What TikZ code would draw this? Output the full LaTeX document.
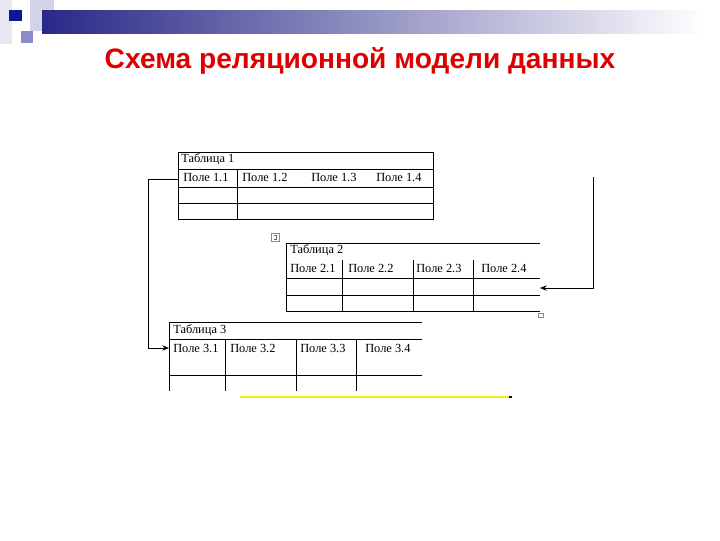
\documentclass[tikz,border=0pt]{standalone}
\usepackage{fontspec}
\setmainfont{Liberation Serif}
\newfontfamily\titlefont{Liberation Sans}
\usetikzlibrary{arrows.meta}
\definecolor{navy}{RGB}{40,40,135}
\definecolor{sqdark}{RGB}{20,20,150}
\definecolor{sqmid}{RGB}{140,140,200}
\definecolor{sqlight}{RGB}{210,210,232}
\definecolor{sqpale}{RGB}{232,232,244}
\definecolor{titlered}{RGB}{222,0,0}
\definecolor{hlyellow}{RGB}{245,240,20}
\tikzset{
  tbl/.style={line width=0.75pt, draw=black},
  cell/.style={anchor=west, inner sep=0pt, font=\fontsize{9.3}{11}\selectfont},
  conn/.style={line width=0.75pt, -{Stealth[length=5pt,width=4pt]}},
  handle/.style={draw=black!45, line width=0.4pt, fill=white},
}
\begin{document}
\begin{tikzpicture}[x=0.75pt,y=-0.75pt]
\useasboundingbox (0,0) rectangle (720,540);
% header decoration
\fill[sqpale] (0,0) rectangle (12,44);
\fill[sqlight] (30,0) rectangle (54,31);
\shade[left color=navy, right color=white] (42,10) rectangle (705,33);
\fill[sqmid] (21,31) rectangle (33,43);
\fill[sqdark] (9,10) rectangle (22,21);
% title
\node[font=\titlefont\bfseries\fontsize{21.1}{24}\selectfont, text=titlered] (title) at (360,61) {Схема реляционной модели данных};

% Table 1
\draw[tbl] (178,152) rectangle (433,219);
\draw[tbl] (178,169) -- (433,169);
\draw[tbl] (178,187) -- (433,187);
\draw[tbl] (178,203) -- (433,203);
\draw[tbl] (237,169) -- (237,219);
\node[cell] (t1) at (181,159.5) {Таблица 1};
\node[cell] (f11) at (183,177.5) {Поле 1.1};
\node[cell] (f12) at (242,177.5) {Поле 1.2};
\node[cell] (f13) at (311,177.5) {Поле 1.3};
\node[cell] (f14) at (376,177.5) {Поле 1.4};

% Table 2
\draw[tbl] (540,243) -- (286,243) -- (286,311) -- (540,311);
\draw[tbl] (286,278) -- (540,278);
\draw[tbl] (286,295) -- (540,295);
\draw[tbl] (342,260) -- (342,311);
\draw[tbl] (413,260) -- (413,311);
\draw[tbl] (473,260) -- (473,311);
\node[cell] (t2) at (290,250.5) {Таблица 2};
\node[cell] (f21) at (290,268.5) {Поле 2.1};
\node[cell] (f22) at (348,268.5) {Поле 2.2};
\node[cell] (f23) at (416,268.5) {Поле 2.3};
\node[cell] (f24) at (481,268.5) {Поле 2.4};
\draw[handle] (271,233) rectangle (279,241);
\draw[black!60, line width=0.4pt] (273.5,235.5) -- (276.5,235.5) -- (276.5,239) -- (273.5,239);
\draw[handle] (538,313) rectangle (543,317);

% Table 3
\draw[tbl] (422,322) -- (169,322) -- (169,391);
\draw[tbl] (169,339) -- (422,339);
\draw[tbl] (169,375) -- (422,375);
\draw[tbl] (225,339) -- (225,391);
\draw[tbl] (296,339) -- (296,391);
\draw[tbl] (356,339) -- (356,391);
\node[cell] (t3) at (173,330.5) {Таблица 3};
\node[cell] (f31) at (173,348.5) {Поле 3.1};
\node[cell] (f32) at (230,348.5) {Поле 3.2};
\node[cell] (f33) at (300,348.5) {Поле 3.3};
\node[cell] (f34) at (365,348.5) {Поле 3.4};

% connectors
\coordinate (a1) at (178,179);
\coordinate (a2) at (169,348);
\draw[conn] (a1) -- ++(-30,0) |- (a2);
\coordinate (b1) at (593,177);
\coordinate (b2) at (540,288);
\draw[conn] (b1) |- (b2);

% yellow line
\draw[hlyellow, line width=2pt] (240,397) -- (509,397);
\fill[black] (509,395.8) rectangle (511.5,398.2);
\end{tikzpicture}
\end{document}
